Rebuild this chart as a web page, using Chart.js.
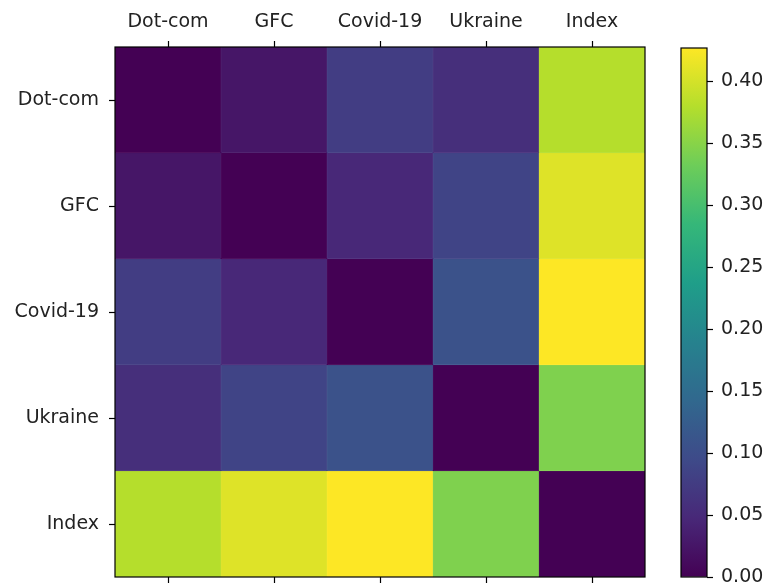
<!DOCTYPE html>
<html>
<head>
<meta charset="utf-8">
<script src="https://cdn.jsdelivr.net/npm/chart.js@4.4.1/dist/chart.umd.min.js"></script>
<style>
  html, body { margin: 0; padding: 0; background: #fff; }
  #wrap { position: relative; width: 770px; height: 588px; }
  #wrap canvas { position: absolute; left: 0; top: 0; }
</style>
</head>
<body>
<div id="wrap">
  <canvas id="heat" width="770" height="588"></canvas>
  <canvas id="cbar" width="770" height="588"></canvas>
</div>
<script>
// crisis labels, same order on both axes
const labels = ['Dot-com', 'GFC', 'Covid-19', 'Ukraine', 'Index'];

// one row of the (symmetric) distance matrix per crisis
const dotcom  = [0.000, 0.025, 0.077, 0.057, 0.380];
const gfc     = [0.025, 0.000, 0.048, 0.087, 0.407];
const covid   = [0.077, 0.048, 0.000, 0.107, 0.427];
const ukraine = [0.057, 0.087, 0.107, 0.000, 0.344];
const index   = [0.380, 0.407, 0.427, 0.344, 0.000];
const rows = [dotcom, gfc, covid, ukraine, index];

const vmin = 0;
const vmax = 0.427;
const cbTicks = [0.00, 0.05, 0.10, 0.15, 0.20, 0.25, 0.30, 0.35, 0.40];

// viridis, sampled at 10 even stops
const viridis = ['#440154', '#482878', '#3e4a89', '#31688e', '#26828e',
                 '#1f9e89', '#35b779', '#6dcd59', '#b4de2c', '#fde725'];

function hexToRgb(h) {
    return [parseInt(h.slice(1, 3), 16), parseInt(h.slice(3, 5), 16), parseInt(h.slice(5, 7), 16)];
}

function cmap(v) {
    let t = (v - vmin) / (vmax - vmin);
    t = Math.max(0, Math.min(1, t));
    const p = t * (viridis.length - 1);
    const i = Math.min(Math.floor(p), viridis.length - 2);
    const f = p - i;
    const a = hexToRgb(viridis[i]);
    const b = hexToRgb(viridis[i + 1]);
    const c = a.map((x, k) => Math.round(x + (b[k] - x) * f));
    return 'rgb(' + c.join(',') + ')';
}

const font = { family: 'DejaVu Sans', size: 19 };
const textColor = '#222';

// black box round the plot area, like the matplotlib spines
const frame = {
    id: 'frame',
    afterDraw(chart) {
        const { ctx, chartArea: a } = chart;
        ctx.save();
        ctx.strokeStyle = '#000';
        ctx.lineWidth = 1.2;
        ctx.strokeRect(a.left, a.top, a.right - a.left, a.bottom - a.top);
        ctx.restore();
    }
};

const tickGrid = {
    display: true,
    drawOnChartArea: false,
    offset: false,
    tickLength: 6,
    color: '#000',
    tickColor: '#000',
    tickWidth: 1.2
};

// fixed axis size, and no extra room for labels hanging past the ends
function fixSize(prop, size) {
    return function (s) {
        s[prop] = size;
        s.paddingTop = 0;
        s.paddingBottom = 0;
        s.paddingLeft = 0;
        s.paddingRight = 0;
    };
}

new Chart(document.getElementById('heat'), {
    type: 'bar',
    data: {
        labels: labels,
        datasets: rows.map((r, i) => ({
            label: labels[i],
            data: labels.map(() => 1),
            backgroundColor: r.map(cmap),
            borderColor: r.map(cmap),
            borderWidth: 0.5,
            barPercentage: 1,
            categoryPercentage: 1
        }))
    },
    options: {
        responsive: false,
        animation: false,
        devicePixelRatio: 1,
        layout: { autoPadding: false, padding: { left: 0, right: 125, top: 0, bottom: 0 } },
        plugins: { legend: { display: false }, tooltip: { enabled: false } },
        scales: {
            x: {
                type: 'category',
                position: 'top',
                stacked: true,
                grid: tickGrid,
                border: { display: false },
                ticks: { font: font, color: textColor, padding: 8, maxRotation: 0, autoSkip: false },
                afterFit: fixSize('height', 47)
            },
            x2: {
                type: 'category',
                position: 'bottom',
                labels: labels,
                offset: true,
                grid: tickGrid,
                border: { display: false },
                ticks: { display: false },
                afterFit: fixSize('height', 11)
            },
            y: {
                type: 'linear',
                stacked: true,
                reverse: true,
                min: 0,
                max: 5,
                afterBuildTicks(s) {
                    s.ticks = labels.map((_, i) => ({ value: i + 0.5 }));
                },
                grid: tickGrid,
                border: { display: false },
                ticks: {
                    font: font,
                    color: textColor,
                    padding: 10,
                    callback: (v, i) => labels[i]
                },
                afterFit: fixSize('width', 115)
            }
        }
    },
    plugins: [frame]
});

new Chart(document.getElementById('cbar'), {
    type: 'bar',
    data: {
        labels: ['scale'],
        datasets: [{
            data: [vmax],
            barPercentage: 1,
            categoryPercentage: 1,
            borderWidth: 0,
            backgroundColor: (c) => {
                const ch = c.chart;
                const a = ch.chartArea;
                if (!a) return viridis[0];
                const g = ch.ctx.createLinearGradient(0, a.bottom, 0, a.top);
                viridis.forEach((col, i) => g.addColorStop(i / (viridis.length - 1), col));
                return g;
            }
        }]
    },
    options: {
        responsive: false,
        animation: false,
        devicePixelRatio: 1,
        layout: { autoPadding: false, padding: { left: 681, right: 0, top: 48, bottom: 11 } },
        plugins: { legend: { display: false }, tooltip: { enabled: false } },
        scales: {
            x: { display: false },
            y: {
                position: 'right',
                min: vmin,
                max: vmax,
                afterBuildTicks(s) {
                    s.ticks = cbTicks.map(v => ({ value: v }));
                },
                grid: tickGrid,
                border: { display: false },
                ticks: {
                    font: font,
                    color: textColor,
                    padding: 8,
                    callback: (v) => Number(v).toFixed(2)
                },
                afterFit: fixSize('width', 63)
            }
        }
    },
    plugins: [frame]
});
</script>
</body>
</html>
